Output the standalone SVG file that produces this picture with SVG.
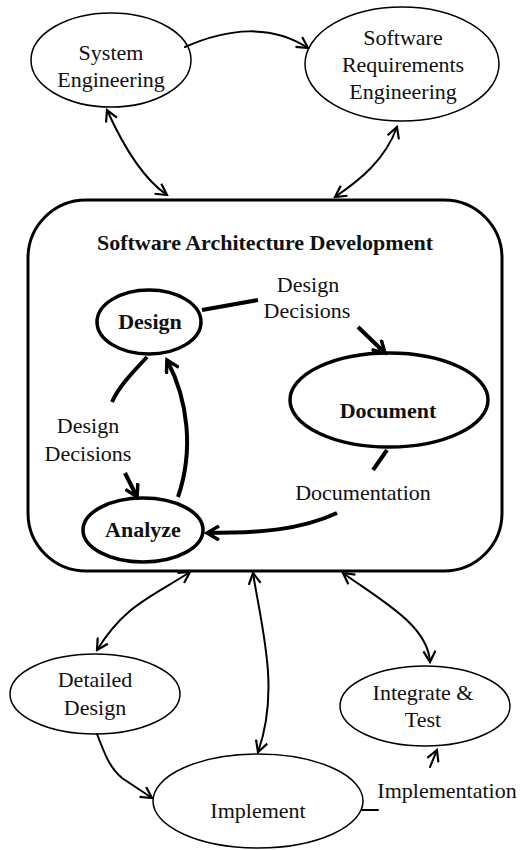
<svg xmlns="http://www.w3.org/2000/svg" width="531" height="850" viewBox="0 0 531 850">
<style>
text{font-family:"Liberation Serif","Times New Roman",serif;font-size:22px;fill:#111;text-anchor:middle}
.b{font-weight:bold}
.n{fill:#fff;stroke:#000;stroke-width:1.5}
.nb{fill:#fff;stroke:#000;stroke-width:3.5}
.c{fill:none;stroke:#000;stroke-width:2;stroke-linecap:round}
.ct{fill:none;stroke:#000;stroke-width:4;stroke-linecap:butt}
</style>
<defs>
<marker id="a" viewBox="0 0 14 14" refX="12" refY="7" markerWidth="14" markerHeight="14" markerUnits="userSpaceOnUse" orient="auto-start-reverse">
<path d="M1,1 L12,7 L1,13" fill="none" stroke="#000" stroke-width="2.2"/>
</marker>
<marker id="at" viewBox="0 0 16 16" refX="13" refY="8" markerWidth="16" markerHeight="16" markerUnits="userSpaceOnUse" orient="auto">
<path d="M1,1 L13,8 L1,15" fill="none" stroke="#000" stroke-width="3.5"/>
</marker>
</defs>
<rect id="box" x="28" y="200" width="474" height="371" rx="58" fill="#fff" stroke="#000" stroke-width="3"/>
<text class="b" x="265" y="250" font-size="22">Software Architecture Development</text>
<g id="sys"><ellipse class="n" cx="111" cy="60" rx="80" ry="47"/><text x="111" y="60">System</text><text x="111" y="87">Engineering</text></g>
<g id="sre"><ellipse class="n" cx="402" cy="64" rx="97" ry="57"/><text x="403" y="45">Software</text><text x="403" y="72">Requirements</text><text x="403" y="99">Engineering</text></g>
<g id="design"><ellipse class="nb" cx="149" cy="322" rx="52" ry="32"/><text class="b" x="150" y="329">Design</text></g>
<g id="document"><ellipse class="nb" cx="389" cy="400" rx="99" ry="47"/><text class="b" x="388" y="418">Document</text></g>
<g id="analyze"><ellipse class="nb" cx="143" cy="530" rx="60" ry="32"/><text class="b" x="143" y="537">Analyze</text></g>
<g id="detailed"><ellipse class="n" cx="95" cy="694" rx="85" ry="40"/><text x="95" y="687">Detailed</text><text x="95" y="715">Design</text></g>
<g id="integrate"><ellipse class="n" cx="425" cy="706" rx="85" ry="40"/><text x="423" y="700">Integrate &amp;</text><text x="423" y="727">Test</text></g>
<g id="implement"><ellipse class="n" cx="258" cy="801" rx="105" ry="47"/><text x="258" y="818">Implement</text></g>
<g id="connectors">
<path class="c" d="M185,47 C228,28 272,24 308,48" marker-end="url(#a)"/>
<path class="c" d="M107,110 C125,150 145,180 167,195" marker-start="url(#a)" marker-end="url(#a)"/>
<path class="c" d="M397,127 C385,160 360,180 335,197" marker-start="url(#a)" marker-end="url(#a)"/>
<path class="ct" d="M202,310 L258,300"/>
<path class="ct" d="M358,327 L385,353" marker-end="url(#at)"/>
<path class="ct" d="M147,357 C130,375 118,388 112,402"/>
<path class="ct" d="M125,473 L137,497" marker-end="url(#at)"/>
<path class="ct" d="M178,497 C194,450 188,400 167,360" marker-end="url(#at)"/>
<path class="ct" d="M387,450 L373,470"/>
<path class="ct" d="M337,513 C300,530 260,533 207,533" marker-end="url(#at)"/>
<path class="c" d="M190,572 C150,598 125,605 97,650" marker-start="url(#a)" marker-end="url(#a)"/>
<path class="c" d="M253,573 C262,630 280,690 258,752" marker-start="url(#a)" marker-end="url(#a)"/>
<path class="c" d="M343,573 C380,600 428,625 430,662" marker-start="url(#a)" marker-end="url(#a)"/>
<path class="c" d="M97,734 C105,755 110,768 122,778 L152,798" marker-end="url(#a)"/>
<path class="c" d="M362,810 L378,810"/>
<path class="c" d="M430,767 L437,750" marker-end="url(#a)"/>
</g>
<text x="308" y="292">Design</text><text x="307" y="318">Decisions</text>
<text x="88" y="433">Design</text><text x="88" y="461">Decisions</text>
<text x="363" y="500">Documentation</text>
<text x="447" y="798">Implementation</text>
</svg>
